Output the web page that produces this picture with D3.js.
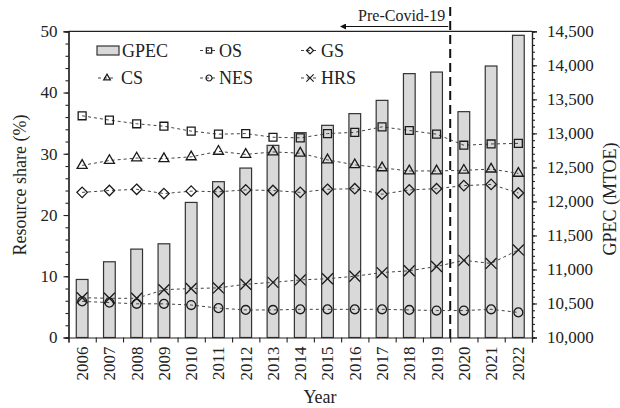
<!DOCTYPE html>
<html>
<head>
<meta charset="utf-8">
<script src="https://cdn.jsdelivr.net/npm/d3@7"></script>
<style>
  body { margin: 0; background: #fff; }
  svg { display: block; }
  svg text { font-family: "Liberation Serif", "Times New Roman", Times, serif; fill: #222; }
</style>
</head>
<body>
<svg id="chart" width="620" height="408"></svg>
<script>
// Years on the category axis
const years = ["2006","2007","2008","2009","2010","2011","2012","2013","2014",
               "2015","2016","2017","2018","2019","2020","2021","2022"];

// Global primary energy consumption (MTOE), right axis
const gpec = [10853, 11113, 11299, 11377, 11985, 12290, 12490, 12824, 13010,
              13118, 13290, 13485, 13878, 13901, 13319, 13990, 14441];

// Resource shares (%), left axis
const osShare  = [36.2, 35.5, 34.9, 34.5, 33.7, 33.2, 33.3, 32.7, 32.6, 33.3, 33.5, 34.4, 33.8, 33.2, 31.4, 31.6, 31.7];
const csShare  = [28.1, 28.9, 29.3, 29.2, 29.5, 30.4, 29.9, 30.3, 30.1, 29.0, 28.2, 27.7, 27.2, 27.2, 27.3, 27.5, 26.8];
const gsShare  = [23.7, 24.0, 24.2, 23.5, 23.9, 23.8, 24.1, 24.0, 23.7, 24.2, 24.3, 23.4, 24.1, 24.3, 24.8, 25.0, 23.6];
const nesShare = [5.9, 5.7, 5.5, 5.5, 5.3, 4.8, 4.5, 4.5, 4.6, 4.6, 4.6, 4.6, 4.5, 4.4, 4.4, 4.6, 4.1];
const hrsShare = [6.5, 6.4, 6.4, 7.8, 8.0, 8.1, 8.7, 9.0, 9.4, 9.6, 10.0, 10.6, 10.9, 11.6, 12.6, 12.1, 14.3];

// Axis tick values
const leftTicks  = [0, 10, 20, 30, 40, 50];
const rightTicks = [10000, 10500, 11000, 11500, 12000, 12500, 13000, 13500, 14000, 14500];

const series = [
  { name: "OS",  values: osShare,  symbol: d3.symbolSquare2,   size: 80 },
  { name: "GS",  values: gsShare,  symbol: d3.symbolDiamond2,  size: 70 },
  { name: "CS",  values: csShare,  symbol: d3.symbolTriangle2, size: 72 },
  { name: "NES", values: nesShare, symbol: d3.symbolCircle,    size: 62 },
  { name: "HRS", values: hrsShare, symbol: d3.symbolTimes,     size: 80 }
];

const FONT = '"Liberation Serif", "Times New Roman", Times, serif';
const svg = d3.select("#chart");
const plotLeft = 68.5, plotRight = 532, plotTop = 31.3, plotBottom = 337.5;

const x = d3.scaleBand().domain(years).range([plotLeft, plotRight]).padding(0);
const xEdge = d3.scaleLinear().domain([0, years.length]).range([plotLeft, plotRight]);
const yL = d3.scaleLinear().domain([0, 50]).range([plotBottom, plotTop]);
const yR = d3.scaleLinear().domain([10000, 14500]).range([plotBottom, plotTop]);
const cx = d => x(d) + x.bandwidth() / 2;

// Bars
const barW = x.bandwidth() * 0.43;
svg.append("g").selectAll("rect").data(years).join("rect")
  .attr("x", (d) => cx(d) - barW / 2)
  .attr("y", (d, i) => yR(gpec[i]))
  .attr("width", barW)
  .attr("height", (d, i) => plotBottom - yR(gpec[i]))
  .attr("fill", "#d9d9d9")
  .attr("stroke", "#333")
  .attr("stroke-width", 1.2);

// Dashed series lines and markers
const line = d3.line().x((d, i) => cx(years[i])).y(d => yL(d));
series.forEach(s => {
  svg.append("path")
    .attr("d", line(s.values))
    .attr("fill", "none")
    .attr("stroke", "#444")
    .attr("stroke-width", 1)
    .attr("stroke-dasharray", "3,3");
  svg.append("g").selectAll("path").data(s.values).join("path")
    .attr("transform", (d, i) => `translate(${cx(years[i])},${yL(d)})`)
    .attr("d", d3.symbol(s.symbol, s.size))
    .attr("fill", "none")
    .attr("stroke", "#1a1a1a")
    .attr("stroke-width", 1.3);
});

// Frame line along the top
svg.append("line").attr("x1", plotLeft).attr("x2", plotRight).attr("y1", plotTop).attr("y2", plotTop)
  .attr("stroke", "#222").attr("stroke-width", 1.2);

function styleAxis(g) {
  g.attr("font-family", null).attr("font-size", null);
  g.selectAll(".domain").attr("stroke", "#222").attr("stroke-width", 1.2);
  g.selectAll(".tick line").attr("stroke", "#222").attr("stroke-width", 1.1);
  g.selectAll(".tick text").style("font-family", FONT)
    .style("font-size", "17px").attr("fill", "#222");
}

// Left axis (minor then major)
svg.append("g").attr("transform", `translate(${plotLeft},0)`)
  .call(d3.axisLeft(yL).tickValues(d3.range(0, 51, 2)).tickSize(3).tickFormat(""))
  .call(styleAxis);
svg.append("g").attr("transform", `translate(${plotLeft},0)`)
  .call(d3.axisLeft(yL).tickValues(leftTicks).tickSize(5).tickPadding(6))
  .call(styleAxis);

// Right axis (minor then major)
svg.append("g").attr("transform", `translate(${plotRight},0)`)
  .call(d3.axisRight(yR).tickValues(d3.range(10000, 14501, 100)).tickSize(3).tickFormat(""))
  .call(styleAxis);
svg.append("g").attr("transform", `translate(${plotRight},0)`)
  .call(d3.axisRight(yR).tickValues(rightTicks).tickSize(5).tickPadding(10)
    .tickFormat(d3.format(",")))
  .call(styleAxis);

// Bottom axis: ticks at category boundaries, rotated year labels
svg.append("g").attr("transform", `translate(0,${plotBottom})`)
  .call(d3.axisBottom(xEdge).tickValues(d3.range(0, years.length + 1)).tickSize(5).tickFormat(""))
  .call(styleAxis);
const xLab = svg.append("g").attr("transform", `translate(0,${plotBottom})`)
  .call(d3.axisBottom(x).tickSize(0).tickPadding(0));
xLab.attr("font-family", null).attr("font-size", null);
xLab.select(".domain").remove();
xLab.selectAll(".tick text")
  .attr("transform", "rotate(-90)")
  .attr("x", -9).attr("y", 0).attr("dy", "0.35em")
  .attr("text-anchor", "end")
  .style("font-family", FONT)
  .style("font-size", "17px").attr("fill", "#222");

// Axis titles
svg.append("text").attr("x", 320).attr("y", 403).attr("text-anchor", "middle")
  .style("font-family", FONT).style("font-size", "18px").text("Year");
svg.append("text").attr("transform", "translate(26,185) rotate(-90)")
  .attr("text-anchor", "middle").style("font-family", FONT).style("font-size", "18px")
  .text("Resource share (%)");
svg.append("text").attr("transform", "translate(616,199) rotate(-90)")
  .attr("text-anchor", "middle").style("font-family", FONT).style("font-size", "18px")
  .text("GPEC (MTOE)");

// Pre-Covid-19 divider and arrow
const divX = xEdge(years.indexOf("2020"));
svg.append("line").attr("x1", divX).attr("x2", divX).attr("y1", 7).attr("y2", 343)
  .attr("stroke", "#111").attr("stroke-width", 2).attr("stroke-dasharray", "9,5");
svg.append("defs").append("marker").attr("id", "arrowhead")
  .attr("viewBox", "0 0 10 10").attr("refX", 0).attr("refY", 5)
  .attr("markerWidth", 8).attr("markerHeight", 6).attr("markerUnits", "userSpaceOnUse")
  .attr("orient", "auto-start-reverse")
  .append("path").attr("d", "M0,0 L10,5 L0,10 Z").attr("fill", "#111");
svg.append("line").attr("x1", divX - 2).attr("x2", 346).attr("y1", 26.5).attr("y2", 26.5)
  .attr("stroke", "#111").attr("stroke-width", 1.1).attr("marker-end", "url(#arrowhead)");
svg.append("text").attr("x", divX - 5).attr("y", 21).attr("text-anchor", "end")
  .style("font-family", FONT).style("font-size", "16px").text("Pre-Covid-19");

// Legend
const legend = svg.append("g");
const legendItems = [
  { name: "GPEC", col: 0, row: 0, bar: true },
  { name: "OS",  col: 1, row: 0, s: series[0] },
  { name: "GS",  col: 2, row: 0, s: series[1] },
  { name: "CS",  col: 0, row: 1, s: series[2] },
  { name: "NES", col: 1, row: 1, s: series[3] },
  { name: "HRS", col: 2, row: 1, s: series[4] }
];
const colX = [107, 209, 310];
const textX = [121, 219, 321];
const rowY = [50.5, 78];
legendItems.forEach(it => {
  const mx = colX[it.col], my = rowY[it.row];
  if (it.bar) {
    legend.append("rect").attr("x", 97).attr("y", my - 4.5).attr("width", 22).attr("height", 9)
      .attr("fill", "#d9d9d9").attr("stroke", "#333").attr("stroke-width", 1.2);
  } else {
    legend.append("line").attr("x1", mx - 9).attr("x2", mx + 9).attr("y1", my).attr("y2", my)
      .attr("stroke", "#444").attr("stroke-dasharray", "3,3");
    legend.append("path").attr("transform", `translate(${mx},${my})`)
      .attr("d", d3.symbol(it.s.symbol, it.s.size * 0.45))
      .attr("fill", "none").attr("stroke", "#1a1a1a").attr("stroke-width", 1.2);
  }
  legend.append("text").attr("x", textX[it.col] + (it.bar ? 1 : 0)).attr("y", my).attr("dy", "0.35em")
    .style("font-family", FONT).style("font-size", "18px").text(it.name);
});
</script>
</body>
</html>
